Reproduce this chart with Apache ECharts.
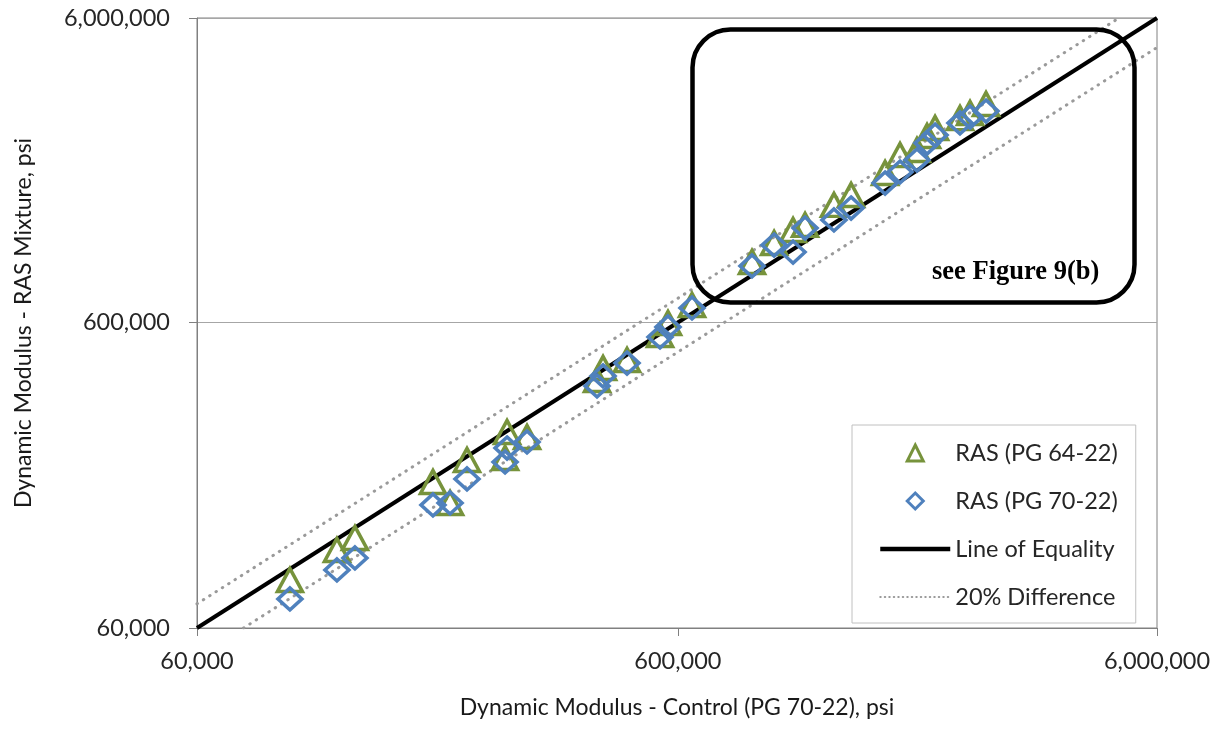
<!DOCTYPE html>
<html><head><meta charset="utf-8">
<script src="https://cdn.jsdelivr.net/npm/echarts@6/dist/echarts.min.js"></script>
<style>html,body{margin:0;padding:0;background:#fff}#c{width:1222px;height:732px}</style>
</head><body><div id="c"></div>
<script>
// Dynamic modulus of the control mixture (PG 70-22), psi
const controlX = [93700, 117400, 128000, 186100, 202000, 219100, 265500, 263000, 292200,
  408800, 420800, 472100, 553100, 574600, 644800,
  859800, 956000, 1047000, 1109000, 1274000, 1383000, 1628000, 1749000, 1897000,
  1991000, 2069000, 2332000, 2447000, 2642000];
// RAS mixture with PG 64-22, psi
const ras6422 = [86200, 108100, 118400, 180600, 154200, 213300, 263500, 216500, 253800,
  390300, 427200, 453700, 548000, 600000, 687600,
  951000, 1098000, 1211000, 1258000, 1463000, 1577000, 1862000, 2132000, 2215000,
  2462000, 2615000, 2819000, 2928000, 3134000];
// RAS mixture with PG 70-22, psi
const ras7022 = [74700, 93000, 101800, 151900, 154200, 184800, 233500, 210100, 244400,
  373000, 402200, 443500, 539800, 582200, 672000,
  922800, 1081000, 1025000, 1229000, 1306000, 1429000, 1726000, 1876000, 2053000,
  2335000, 2480000, 2716000, 2841000, 2973000];
// reference lines (end points)
const equalityX = [60000, 6000000];
const equalityY = [60000, 6000000];
const upperX = [60000, 5000000];
const upperY = [72000, 6000000];
const lowerX = [75000, 6000000];
const lowerY = [60000, 4800000];
const axisTicks = [60000, 600000, 6000000];
const seriesNames = ['RAS (PG 64-22)', 'RAS (PG 70-22)', 'Line of Equality', '20% Difference'];

const pairs = (xs, ys) => xs.map((x, i) => [x, ys[i]]);
const FONT = 'Lato';
const fmt = v => {
  let best = axisTicks[0];
  axisTicks.forEach(t => { if (Math.abs(Math.log(t / v)) < Math.abs(Math.log(best / v))) best = t; });
  return best.toLocaleString('en-US');
};

const GREEN = '#77933C', BLUE = '#4F81BD';
const chart = echarts.init(document.getElementById('c'), null, { renderer: 'canvas' });
const dotted = { color: '#9a9a9a', width: 3, type: [0.5, 7], cap: 'round' };
const hiddenLine = { color: 'rgba(0,0,0,0)', width: 0 };
const option = {
  animation: false,
  grid: { left: 197, right: 65, top: 18, bottom: 104, show: true, borderColor: '#808080', borderWidth: 1 },
  xAxis: {
    type: 'log', logBase: 10, min: axisTicks[0], max: axisTicks[2], interval: 1,
    name: 'Dynamic Modulus - Control (PG 70-22), psi', nameLocation: 'middle', nameGap: 68,
    nameTextStyle: { fontFamily: FONT, fontSize: 23, color: '#1a1a1a' },
    axisLine: { lineStyle: { color: '#808080', width: 1 } },
    axisTick: { show: true, length: 8, lineStyle: { color: '#808080' } },
    axisLabel: { fontFamily: FONT, fontSize: 23.5, color: '#262626', margin: 21, formatter: fmt, showMinLabel: true, showMaxLabel: true },
    splitLine: { show: false }, minorTick: { show: false }
  },
  yAxis: {
    type: 'log', logBase: 10, min: axisTicks[0], max: axisTicks[2], interval: 1,
    name: 'Dynamic Modulus - RAS Mixture, psi', nameLocation: 'middle', nameGap: 162, nameRotate: 90,
    nameTextStyle: { fontFamily: FONT, fontSize: 23, color: '#1a1a1a' },
    axisLine: { show: true, lineStyle: { color: '#808080', width: 1 } },
    axisTick: { show: true, length: 8, lineStyle: { color: '#808080' } },
    axisLabel: { fontFamily: FONT, fontSize: 23.5, color: '#262626', margin: 27, formatter: fmt, showMinLabel: true, showMaxLabel: true },
    splitLine: { show: true, lineStyle: { color: '#a6a6a6', width: 1 } }
  },
  legend: {
    orient: 'vertical', left: 852, top: 425,
    padding: [14, 18, 12, 26],
    itemWidth: 70, itemHeight: 20, itemGap: 20,
    borderColor: '#c0c0c0', borderWidth: 1, backgroundColor: '#fff',
    textStyle: { fontFamily: FONT, fontSize: 23.5, color: '#262626', lineHeight: 28 },
    data: [
      { name: seriesNames[0], itemStyle: { color: 'rgba(255,255,255,0)', borderColor: GREEN, borderWidth: 3 }, lineStyle: hiddenLine },
      { name: seriesNames[1], itemStyle: { color: 'rgba(255,255,255,0)', borderColor: BLUE, borderWidth: 3 }, lineStyle: hiddenLine },
      { name: seriesNames[2], itemStyle: { color: 'rgba(0,0,0,0)', borderWidth: 0 }, lineStyle: { color: '#000', width: 4.5 } },
      { name: seriesNames[3], itemStyle: { color: 'rgba(0,0,0,0)', borderWidth: 0 }, lineStyle: { color: '#9a9a9a', width: 2, type: [0.5, 4], cap: 'round' } }
    ]
  },
  series: [
    { name: seriesNames[3], type: 'line', data: pairs(upperX, upperY), symbol: 'none', lineStyle: dotted,
      itemStyle: { color: 'rgba(0,0,0,0)' }, z: 1, silent: true },
    { name: seriesNames[3], type: 'line', data: pairs(lowerX, lowerY), symbol: 'none', lineStyle: dotted,
      itemStyle: { color: 'rgba(0,0,0,0)' }, z: 1, silent: true },
    { name: seriesNames[2], type: 'line', data: pairs(equalityX, equalityY), symbol: 'none', lineStyle: { color: '#000', width: 4 },
      itemStyle: { color: 'rgba(0,0,0,0)' }, z: 2, silent: true },
    { name: seriesNames[0], type: 'line', data: pairs(controlX, ras6422), symbol: 'triangle', symbolSize: [25, 23], showSymbol: true, showAllSymbol: true,
      lineStyle: hiddenLine, itemStyle: { color: 'rgba(255,255,255,0)', borderColor: GREEN, borderWidth: 3.5 }, z: 4 },
    { name: seriesNames[1], type: 'line', data: pairs(controlX, ras7022), symbol: 'diamond', symbolSize: [24, 22], showSymbol: true, showAllSymbol: true,
      lineStyle: hiddenLine, itemStyle: { color: 'rgba(255,255,255,0)', borderColor: BLUE, borderWidth: 3.5 }, z: 5 }
  ],
  graphic: [
    { type: 'rect', left: 690, top: 27, z: 3, shape: { width: 442, height: 273, r: 38 },
      style: { fill: 'none', stroke: '#000', lineWidth: 4.5 } },
    { type: 'text', left: 932, top: 259, z: 3,
      style: { text: 'see Figure 9(b)', font: 'bold 26.5px "Liberation Serif", "Times New Roman", serif', fill: '#000' } }
  ]
};
chart.setOption(option);
</script>
</body></html>
